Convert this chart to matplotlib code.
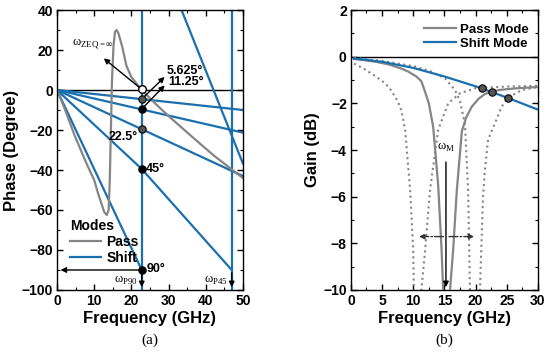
import matplotlib
matplotlib.use("Agg")
import matplotlib.pyplot as plt
from matplotlib.ticker import MultipleLocator

plt.rcParams['font.family'] = ['Liberation Sans', 'DejaVu Sans']
plt.rcParams['font.weight'] = 'bold'

BLUE = '#1a6fad'
GRAY = '#858585'

# ---------------- (a) Phase ----------------
f_p90 = 22.8
f_p45 = 47.0
shift_5 = ([0, 50], [0, -10])
shift_11 = ([0, 50], [0, -21.3])
shift_22 = ([0, 50], [0, -43])
shift_45 = ([0, 22.8, 47.0], [0, -39.5, -90])
shift_90 = ([0, 22.8], [0, -90])
shift_steep = ([33.5, 50], [40, -36.7])

pass_f = [0, 2, 4.8, 8, 10, 11.1, 12, 12.7, 13.4, 13.9, 14.2, 14.5, 14.8, 15.2, 15.6, 16.0,
          16.5, 17.5, 18.7, 20, 21.5, 22.8, 26, 30, 35.8, 42, 50]
pass_p = [0, -9, -23, -37, -45, -52, -57, -61, -62.5, -60, -45, -20, 5, 22, 29, 30,
          28.5, 22, 12, 6.5, 3, 0, -6, -13, -22.5, -32.5, -44]

dot_f = [22.8, 22.8, 22.8, 22.8, 22.8]
dot_p = [-4.5, -9.5, -19.7, -39.5, -90]
dot_c = ['#555555', 'black', '#555555', 'black', 'black']
bit_labels = ['5.625°', '11.25°', '22.5°', '45°', '90°']

# ---------------- (b) Gain ----------------
shift_gf = [0.5, 5, 10, 15, 20, 25, 30]
shift_g = [-0.08, -0.22, -0.48, -0.85, -1.27, -1.75, -2.27]

passg_f = [0.5, 2, 4, 6, 8, 9.2, 10.5, 11.3, 11.8, 12.5, 13.2, 14.0, 14.55, 14.8, 15.3, 15.9,
           16.4, 17.0, 17.8, 18.5, 19.4, 20.5, 21.5, 22.6, 24, 26.3, 30]
passg_g = [-0.1, -0.14, -0.22, -0.33, -0.5, -0.64, -0.85, -1.05, -1.43, -2.0, -3.0, -5.5, -8.3,
           -10, -13, -10, -8.3, -5.7, -3.2, -2.6, -2.14, -1.8, -1.6, -1.5, -1.42, -1.36, -1.3]

dotL_f = [0.5, 2, 4, 5.5, 6.4, 7.5, 8.1, 8.7, 9.5, 10.0, 10.1, 10.6, 11.3, 11.9, 12.7, 14.0,
          15.6, 17.5, 20, 25, 30]
dotL_g = [-0.3, -0.5, -0.85, -1.14, -1.43, -1.9, -2.3, -3.14, -5.7, -8.3, -10, -13, -10, -8.3,
          -5.7, -3.14, -2.0, -1.57, -1.35, -1.28, -1.25]

dotR_f = [0.5, 5, 10.3, 13, 15.1, 16.7, 17.5, 18.3, 18.8, 19.1, 19.9, 20.7, 21.2, 21.5, 22.0,
          24.2, 25.2, 27.4, 30]
dotR_g = [-0.05, -0.18, -0.42, -0.65, -0.93, -1.43, -1.9, -2.9, -5.7, -10, -13, -10, -6.0,
          -4.86, -3.57, -2.14, -1.76, -1.43, -1.3]

mark_f = [21.0, 22.6, 25.2]
mark_g = [-1.36, -1.5, -1.76]

fig = plt.figure(figsize=(5.5, 3.56), dpi=100)
axA = fig.add_axes([0.1036, 0.1854, 0.338, 0.7865])
axB = fig.add_axes([0.638, 0.1854, 0.340, 0.7865])

def style(ax):
    ax.tick_params(which='both', direction='in', top=True, right=True, labelsize=10, pad=3)
    ax.tick_params(which='major', length=4, width=1)
    ax.tick_params(which='minor', length=2, width=0.8)
    for s in ax.spines.values():
        s.set_linewidth(1.0)
    for lab in ax.get_xticklabels() + ax.get_yticklabels():
        lab.set_fontweight('bold')

lw = 1.6
axA.axhline(0, color='black', lw=1.0, zorder=1)
for xs, ys in [shift_5, shift_11, shift_22, shift_45, shift_90, shift_steep]:
    axA.plot(xs, ys, color=BLUE, lw=lw, zorder=2)
axA.axvline(f_p90, color=BLUE, lw=lw, zorder=2)
axA.axvline(f_p45, color=BLUE, lw=lw, zorder=2)
axA.plot(pass_f, pass_p, color=GRAY, lw=lw, zorder=2)
axA.scatter([22.8], [0.3], s=30, facecolor='white', edgecolor='black', lw=1, zorder=5)
for x, y, c in zip(dot_f, dot_p, dot_c):
    axA.scatter([x], [y], s=28, facecolor=c, edgecolor='black', lw=0.8, zorder=5)

arr = dict(arrowstyle='-|>', color='black', lw=1.0, mutation_scale=8)
axA.annotate('', xy=(12.0, 16.7), xytext=(22.8, 0.3), arrowprops=arr)
axA.text(4.0, 23, 'ω$_{\\mathregular{ZEQ=∞}}$', fontsize=9, family='Liberation Serif',
         fontweight='normal', va='center')
axA.annotate('', xy=(29.5, 7.5), xytext=(22.8, dot_p[0]), arrowprops=arr)
axA.annotate('', xy=(29.5, 3.3), xytext=(22.8, dot_p[1]), arrowprops=arr)
axA.text(29.6, 9.7, bit_labels[0], fontsize=9, fontweight='bold', va='center')
axA.text(29.8, 4.0, bit_labels[1], fontsize=9, fontweight='bold', va='center')
axA.text(21.7, -23.5, bit_labels[2], fontsize=9, fontweight='bold', va='center', ha='right')
axA.text(24.0, -39.5, bit_labels[3], fontsize=9, fontweight='bold', va='center')
axA.text(24.0, -89.5, bit_labels[4], fontsize=9, fontweight='bold', va='center')
axA.annotate('', xy=(0.2, -90), xytext=(22.8, -90), arrowprops=arr)
axA.annotate('', xy=(22.8, -100), xytext=(22.8, -90), arrowprops=arr)
axA.annotate('', xy=(47.0, -100), xytext=(47.0, -90), arrowprops=arr)
axA.text(21.8, -95, 'ω$_{\\mathregular{P90}}$', fontsize=9, family='Liberation Serif',
         fontweight='normal', ha='right', va='center')
axA.text(46.0, -95, 'ω$_{\\mathregular{P45}}$', fontsize=9, family='Liberation Serif',
         fontweight='normal', ha='right', va='center')

axA.plot([], [], color=GRAY, lw=lw, label='Pass')
axA.plot([], [], color=BLUE, lw=lw, label='Shift')
legA = axA.legend(loc='lower left', bbox_to_anchor=(0.02, 0.055), frameon=False, title='Modes',
                  fontsize=10, title_fontsize=10, handlelength=2.2, borderpad=0.2,
                  labelspacing=0.15, handletextpad=0.4)
legA.get_title().set_fontweight('bold')
legA._legend_box.align = 'left'
for t in legA.get_texts():
    t.set_fontweight('bold')

axA.set_xlim(0, 50)
axA.set_ylim(-100, 40)
axA.xaxis.set_major_locator(MultipleLocator(10))
axA.xaxis.set_minor_locator(MultipleLocator(5))
axA.yaxis.set_major_locator(MultipleLocator(20))
axA.yaxis.set_minor_locator(MultipleLocator(10))
axA.set_xlabel('Frequency (GHz)', fontsize=12, fontweight='bold', labelpad=2)
axA.set_ylabel('Phase (Degree)', fontsize=12, fontweight='bold', labelpad=2)
style(axA)

# ---------- (b) ----------
axB.axhline(0, color='black', lw=1.0, zorder=1)
axB.plot(dotL_f, dotL_g, color=GRAY, lw=1.5, ls=':', zorder=2)
axB.plot(dotR_f, dotR_g, color=GRAY, lw=1.5, ls=':', zorder=2)
axB.plot(passg_f, passg_g, color=GRAY, lw=lw, zorder=3, label='Pass Mode')
axB.plot(shift_gf, shift_g, color=BLUE, lw=lw, zorder=3, label='Shift Mode')
axB.scatter(mark_f, mark_g, s=28, facecolor='#555555', edgecolor='black', lw=0.8, zorder=5)
axB.annotate('', xy=(15.25, -10), xytext=(15.25, -4.4), arrowprops=arr)
axB.text(15.3, -3.9, 'ω$_{\\mathregular{M}}$', fontsize=9, family='Liberation Serif',
         fontweight='normal', ha='center', va='center')
axB.annotate('', xy=(10.5, -7.71), xytext=(15.3, -7.71),
             arrowprops=dict(arrowstyle='-|>', color='#333333', lw=1.0, ls='-.', mutation_scale=8))
axB.annotate('', xy=(20.2, -7.71), xytext=(15.3, -7.71),
             arrowprops=dict(arrowstyle='-|>', color='#333333', lw=1.0, ls='-.', mutation_scale=8))
legB = axB.legend(loc='upper right', bbox_to_anchor=(1.0, 0.985), frameon=False, fontsize=9.5,
                  handlelength=2.4, borderpad=0.2, labelspacing=0.15, handletextpad=0.3)
for t in legB.get_texts():
    t.set_fontweight('bold')

axB.set_xlim(0, 30)
axB.set_ylim(-10, 2)
axB.xaxis.set_major_locator(MultipleLocator(5))
axB.xaxis.set_minor_locator(MultipleLocator(2.5))
axB.yaxis.set_major_locator(MultipleLocator(2))
axB.yaxis.set_minor_locator(MultipleLocator(1))
axB.set_xlabel('Frequency (GHz)', fontsize=12, fontweight='bold', labelpad=2)
axB.set_ylabel('Gain (dB)', fontsize=12, fontweight='bold', labelpad=2)
style(axB)

fig.text(0.272, 0.035, '(a)', fontsize=11, family='Liberation Serif', fontweight='normal', ha='center')
fig.text(0.808, 0.035, '(b)', fontsize=11, family='Liberation Serif', fontweight='normal', ha='center')

fig.savefig('out.png', dpi=100)
